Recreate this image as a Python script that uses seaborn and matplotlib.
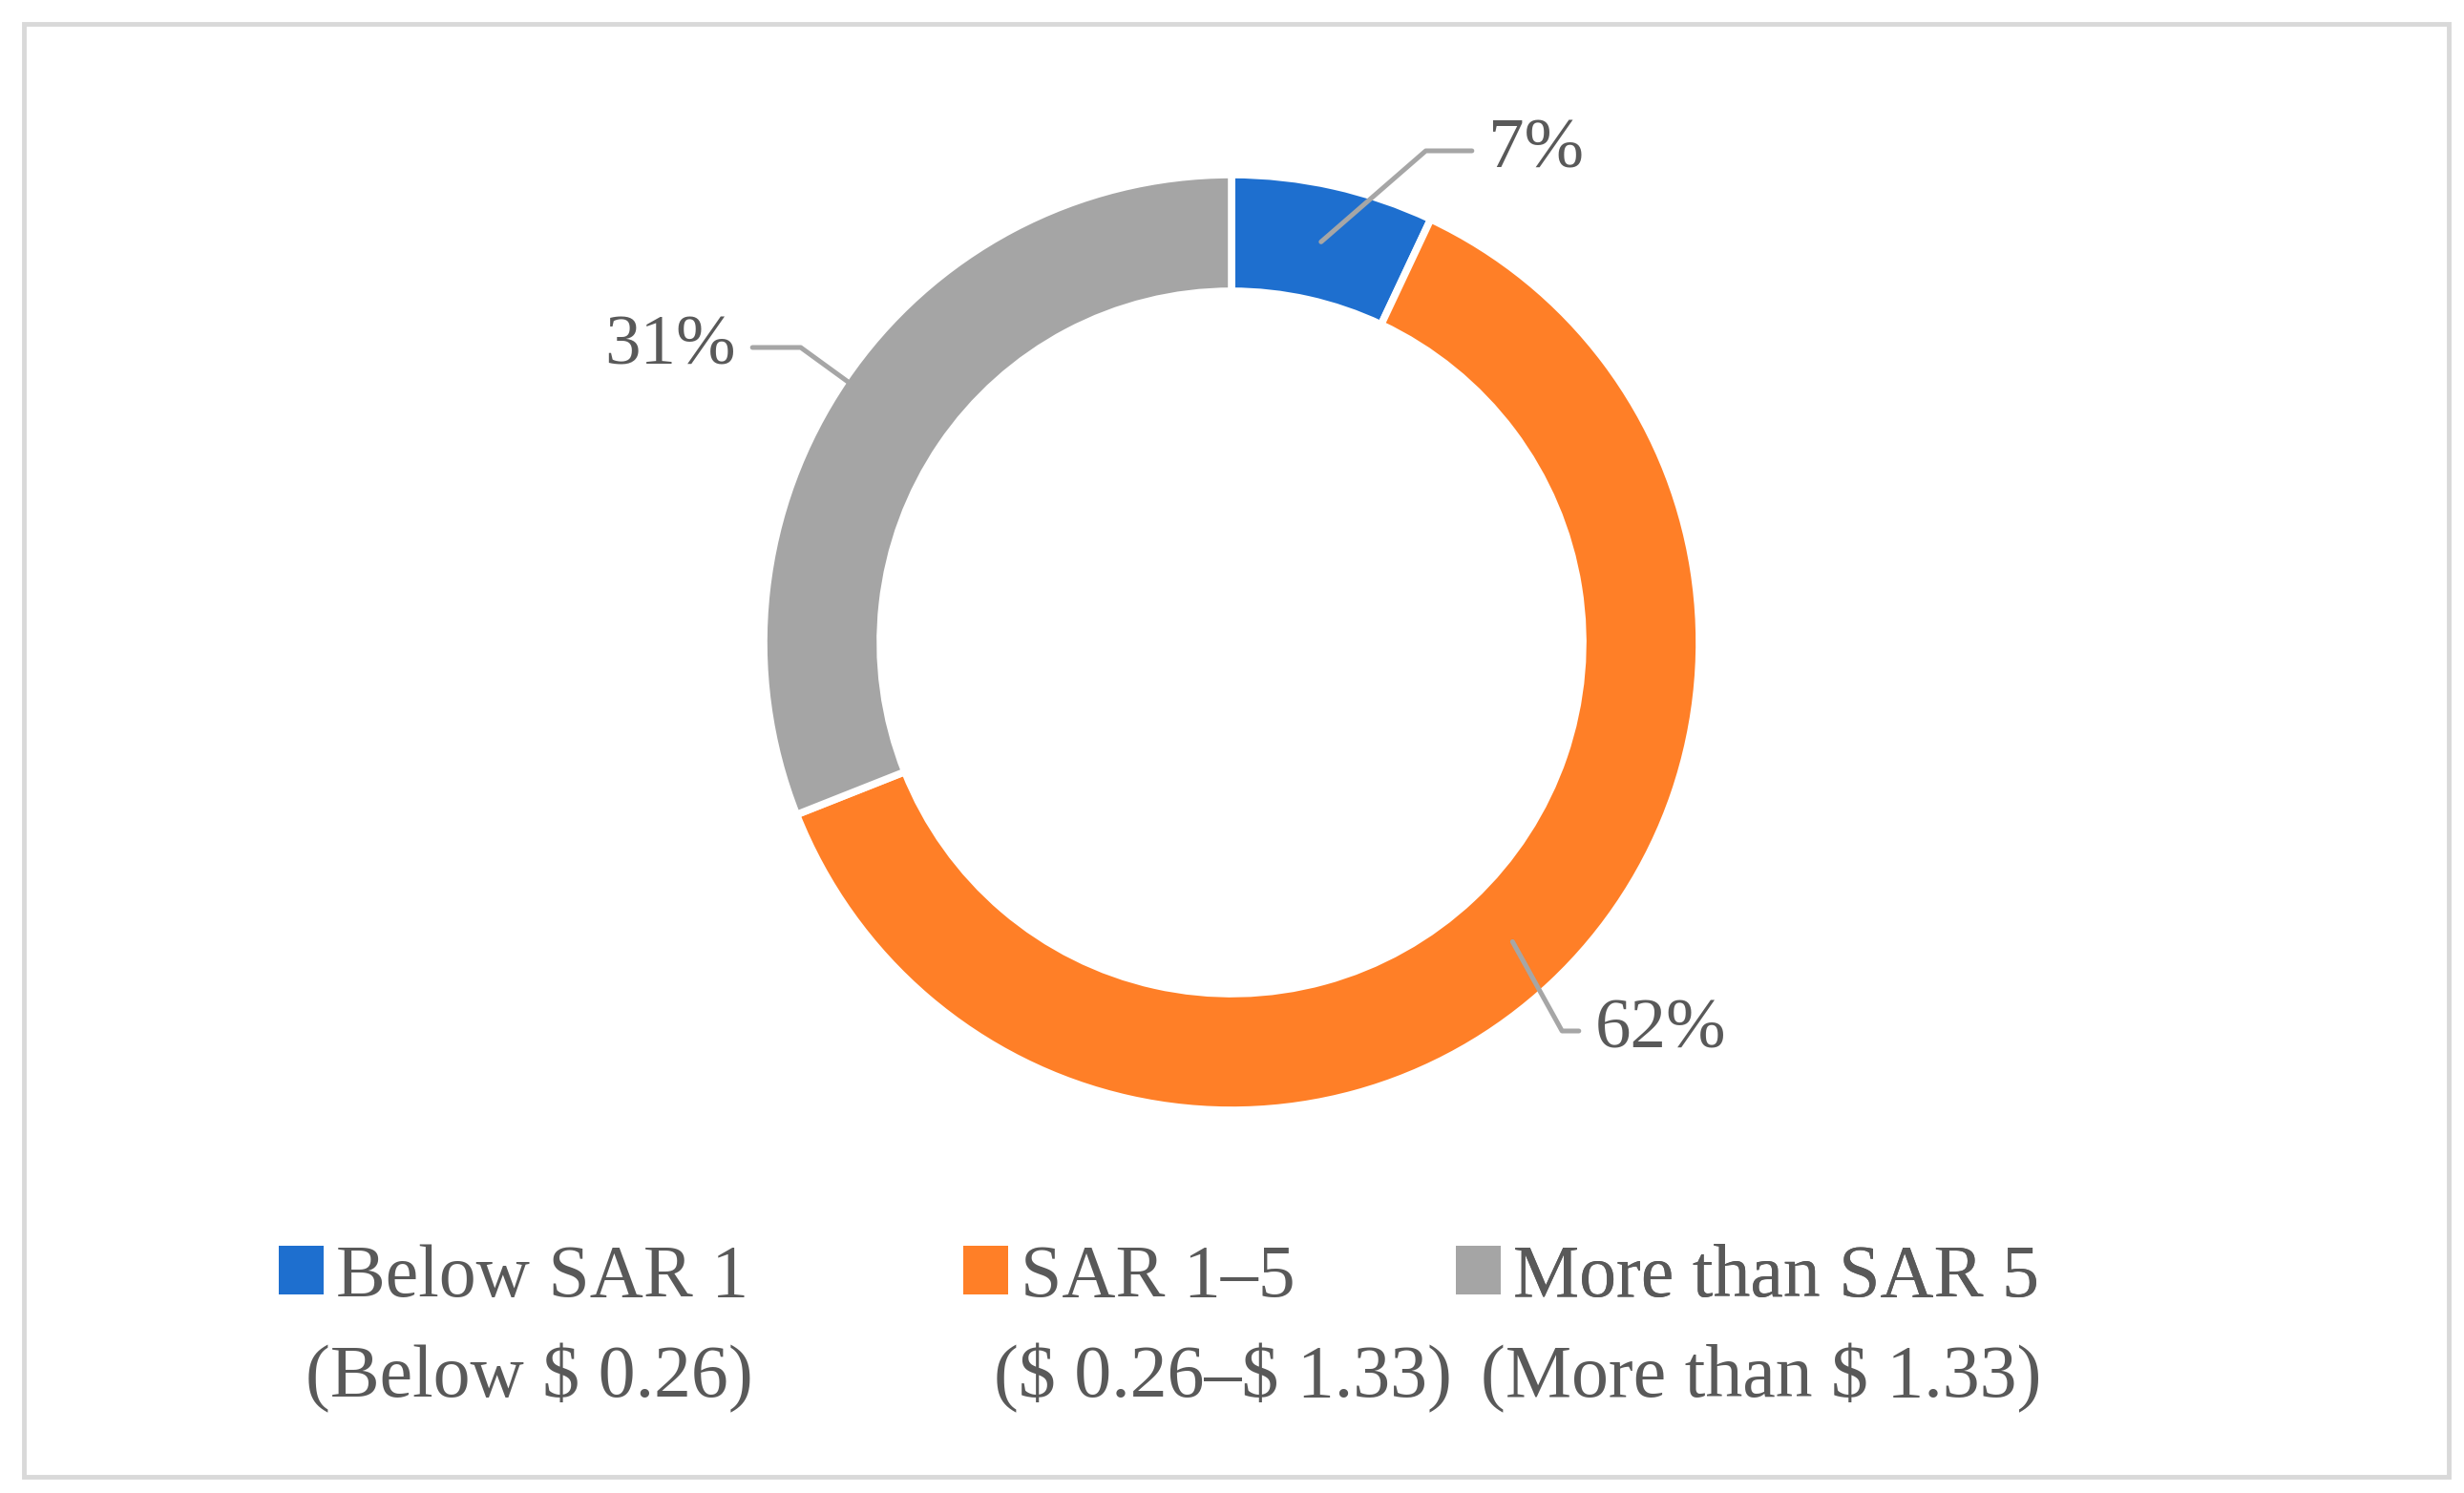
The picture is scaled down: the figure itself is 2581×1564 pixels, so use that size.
import matplotlib
matplotlib.use("Agg")
import matplotlib.pyplot as plt
from matplotlib.patches import Patch, Rectangle
import numpy as np
import seaborn as sns

# data
categories = ['Below SAR 1', 'SAR 1\u20135', 'More than SAR 5']
usd_ranges = ['(Below $ 0.26)', '($ 0.26\u2013$ 1.33)', '(More than $ 1.33)']
shares = [7, 62, 31]
pct_labels = ['7%', '62%', '31%']
colors = ['#1E6FCF', '#FF7F27', '#A5A5A5']

W, H = 2581, 1564
TEXT = '#595959'

sns.set_theme(style='white')
plt.rcParams['font.family'] = ['Liberation Serif', 'DejaVu Serif']
plt.rcParams['text.parse_math'] = False  # dollar signs are plain text here

fig = plt.figure(figsize=(W / 100, H / 100), dpi=100)
ax = fig.add_axes([0, 0, 1, 1])


def up(y):
    # reference measured with y going down
    return H - y


center = (1290, up(673))
radius = 490
wedges, _ = ax.pie(
    shares,
    colors=sns.color_palette(colors),
    startangle=90,
    counterclock=False,
    radius=radius,
    center=center,
    wedgeprops=dict(width=122, edgecolor='white', linewidth=5.5),
)
ax.set_xlim(0, W)
ax.set_ylim(0, H)
ax.set_aspect('equal')
ax.axis('off')

# leader labels: (anchor radius, text position, text ha, angle of the slanted part)
label_style = [
    (430, (1559, up(158)), 'left', 41),
    (430, (1671, up(1080)), 'left', -61),
    (486, (771, up(364)), 'right', 144),
]
for w, lab, (r, xytext, ha, ang) in zip(wedges, pct_labels, label_style):
    mid = np.deg2rad((w.theta1 + w.theta2) / 2)
    xy = (center[0] + r * np.cos(mid), center[1] + r * np.sin(mid))
    ax.annotate(
        lab, xy=xy, xytext=xytext, ha=ha, va='center',
        fontsize=54, color=TEXT,
        arrowprops=dict(arrowstyle='-', color='#A6A6A6', lw=3.6,
                        shrinkA=10, shrinkB=0,
                        connectionstyle=f'angle,angleA=0,angleB={ang},rad=0'),
    )

# legend, first line of each entry
legend_x = [292, 1009, 1525]
for lab, c, x in zip(categories, colors, legend_x):
    leg = ax.legend(
        handles=[Patch(facecolor=c, edgecolor='none')], labels=[lab],
        loc='lower left', bbox_to_anchor=(x / W, 1 - 1375 / H),
        bbox_transform=fig.transFigure, frameon=False, fontsize=56,
        handlelength=0.6, handleheight=0.64, handletextpad=0.17,
        borderpad=0, borderaxespad=0, labelcolor=TEXT,
    )
    ax.add_artist(leg)

# second line with the dollar ranges
range_x = [320, 1041, 1551]
for s, x in zip(usd_ranges, range_x):
    fig.text(x / W, 1 - 1463 / H, s, ha='left', va='baseline',
             fontsize=56, color=TEXT)

# light frame round the chart
fig.patches.append(Rectangle((25 / W, 1 - 1547 / H), 2540 / W, 1522 / H,
                             transform=fig.transFigure, fill=False,
                             edgecolor='#D9D9D9', linewidth=3.5))

fig.savefig('out.png', dpi=100)
